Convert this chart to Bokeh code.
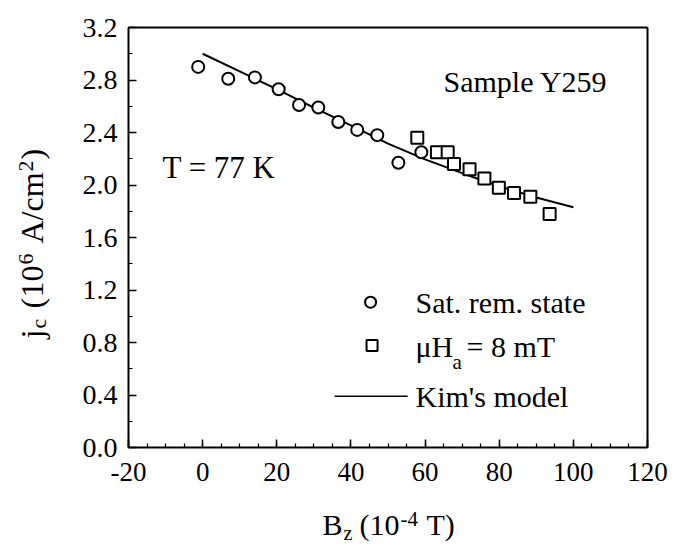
from bokeh.plotting import figure
from bokeh.models import Label, FixedTicker, NumeralTickFormatter, Range1d, LinearAxis
from bokeh.embed import file_html
from bokeh.resources import INLINE
import math

# ---- data ----
sat_rem_x = [-1.2, 6.9, 14.1, 20.5, 26.0, 31.2, 36.6, 41.7, 47.1, 52.8, 59.0]
sat_rem_y = [2.90, 2.81, 2.82, 2.73, 2.61, 2.59, 2.48, 2.42, 2.38, 2.17, 2.25]

mu_ha_x = [57.9, 63.2, 66.1, 67.8, 72.0, 76.0, 79.9, 84.0, 88.4, 93.6]
mu_ha_y = [2.36, 2.25, 2.25, 2.16, 2.12, 2.05, 1.98, 1.94, 1.91, 1.78]

kim_x = [0, 10, 20, 30, 40, 50, 60, 70, 80, 90, 100]
kim_y = [3.00, 2.865, 2.73, 2.59, 2.455, 2.315, 2.195, 2.09, 1.99, 1.905, 1.83]

x_ticks = [-20, 0, 20, 40, 60, 80, 100, 120]
x_tick_labels = ["-20", "0", "20", "40", "60", "80", "100", "120"]
y_ticks = [0.0, 0.4, 0.8, 1.2, 1.6, 2.0, 2.4, 2.8, 3.2]

FONT = "Liberation Serif"
W, H = 677, 545
# pixel box of the axes (canvas coordinates, origin top-left)
BOX_L, BOX_R, BOX_T, BOX_B = 128, 647, 27, 447

# ranges chosen so that the data box lands on the pixel box while the frame fills the canvas
kx = (BOX_R - BOX_L) / (x_ticks[-1] - x_ticks[0])
ky = (BOX_B - BOX_T) / (y_ticks[-1] - y_ticks[0])
x_range = Range1d(x_ticks[0] - BOX_L / kx, x_ticks[-1] + (W - BOX_R) / kx)
y_range = Range1d(y_ticks[0] - (H - BOX_B) / ky, y_ticks[-1] + BOX_T / ky)

p = figure(width=W, height=H, x_range=x_range, y_range=y_range,
           output_backend="svg", toolbar_location=None,
           x_axis_location=None, y_axis_location=None,
           min_border=0, min_border_left=0, min_border_right=0,
           min_border_top=0, min_border_bottom=0,
           background_fill_color="white", border_fill_color="white")
p.xgrid.visible = False
p.ygrid.visible = False
p.outline_line_color = None

x_minor = [x_ticks[0] + 5 * i for i in range(int((x_ticks[-1] - x_ticks[0]) / 5) + 1)]
y_minor = [round(0.2 * i, 1) for i in range(17)]

xaxis = LinearAxis(fixed_location=y_ticks[0], bounds=(x_ticks[0], x_ticks[-1]),
                   ticker=FixedTicker(ticks=x_ticks, minor_ticks=x_minor),
                   major_label_overrides=dict(zip(x_ticks, x_tick_labels)))
yaxis = LinearAxis(fixed_location=x_ticks[0], bounds=(y_ticks[0], y_ticks[-1]),
                   ticker=FixedTicker(ticks=y_ticks, minor_ticks=y_minor),
                   formatter=NumeralTickFormatter(format="0.0"))
for ax in (xaxis, yaxis):
    ax.axis_line_color = "black"
    ax.axis_line_width = 2
    ax.major_tick_in = 8
    ax.major_tick_out = 0
    ax.minor_tick_in = 4
    ax.minor_tick_out = 0
    ax.major_tick_line_width = 1.5
    ax.minor_tick_line_width = 1.2
    ax.major_tick_line_color = "black"
    ax.minor_tick_line_color = "black"
    ax.major_label_text_font = FONT
    ax.major_label_text_font_size = "27px"
    ax.major_label_text_color = "black"
yaxis.major_label_text_font_size = "28px"
xaxis.major_label_standoff = 15
yaxis.major_label_standoff = 11
p.add_layout(xaxis, "below")
p.add_layout(yaxis, "left")

# plain frame lines on top and right
topaxis = LinearAxis(fixed_location=y_ticks[-1], bounds=(x_ticks[0], x_ticks[-1]),
                     ticker=FixedTicker(ticks=[], minor_ticks=[]),
                     axis_line_color="black", axis_line_width=2)
rightaxis = LinearAxis(fixed_location=x_ticks[-1], bounds=(y_ticks[0], y_ticks[-1]),
                       ticker=FixedTicker(ticks=[], minor_ticks=[]),
                       axis_line_color="black", axis_line_width=2)
p.add_layout(topaxis, "above")
p.add_layout(rightaxis, "right")

# data
p.line(kim_x, kim_y, line_color="black", line_width=2)
p.scatter(sat_rem_x, sat_rem_y, marker="circle", size=12, fill_color="white",
          line_color="black", line_width=2)
p.scatter(mu_ha_x, mu_ha_y, marker="square", size=12, fill_color="white",
          line_color="black", line_width=2)


def txt(text, x, y, size, angle=0.0):
    """x, y in canvas pixels from the bottom-left corner (frame fills the canvas)."""
    p.add_layout(Label(x=x, y=y, x_units="screen", y_units="screen", text=text,
                       text_font=FONT, text_font_size=f"{size}px", text_color="black",
                       text_align="left", text_baseline="middle", angle=angle))


# annotations inside the box
txt("Sample Y259", 443, 464, 30)
txt("T = 77 K", 162, 378, 31)

# legend
p.scatter([45.3], [1.107], marker="circle", size=11, fill_color="white",
          line_color="black", line_width=2)
p.scatter([45.7], [0.777], marker="square", size=11, fill_color="white",
          line_color="black", line_width=2)
p.line([35.6, 55.3], [0.391, 0.391], line_color="black", line_width=1.5)
txt("Sat. rem. state", 415, 243.5, 30)
txt("\u03bcH", 415, 199.5, 30)
txt("a", 452, 184, 21)
txt("= 8 mT", 466, 199.5, 30)
txt("Kim's model", 415, 149.5, 30)

# x axis title
txt("B", 322, 21, 30)
txt("z", 343, 13, 20)
txt("(10", 359, 21, 30)
txt("-4", 400, 27, 21)
txt("T)", 426, 21, 30)

# y axis title (rotated, reads bottom to top)
A = math.pi / 2
txt("j", 31.5, 207, 32, angle=A)
txt("c", 38, 217, 22, angle=A)
txt("(", 31.5, 237, 32, angle=A)
txt("10", 31.5, 248, 32, angle=A)
txt("6", 25, 281, 22, angle=A)
txt("A/cm", 31.5, 302, 32, angle=A)
txt("2", 25, 374, 22, angle=A)
txt(")", 31.5, 386, 32, angle=A)

open("out.html", "w").write(file_html(p, INLINE))
